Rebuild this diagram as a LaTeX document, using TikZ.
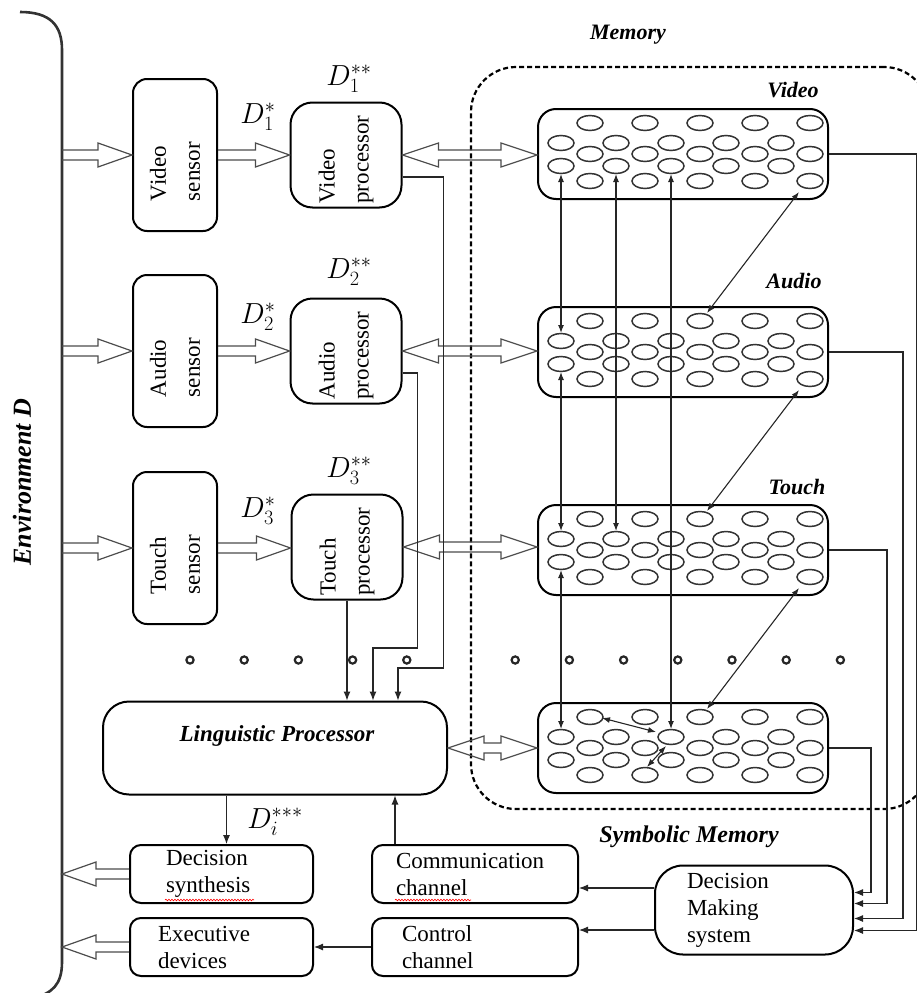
\RequirePackage{fix-cm}
\documentclass[tikz,border=0pt]{standalone}
\usepackage{fontspec}
\setmainfont{Liberation Serif}
\usetikzlibrary{arrows.meta, calc, positioning, decorations.pathmorphing}
\tikzset{
  box/.style={draw, line width=2pt, inner sep=0pt},
  vtxt/.style={font=\fontsize{23}{34}\selectfont},
  htxt/.style={font=\fontsize{23}{27}\selectfont},
  lbl/.style={font=\fontsize{22}{26}\selectfont\bfseries\itshape},
  dlbl/.style={font=\fontsize{29}{32}\selectfont},
  sensor/.style={box, rounded corners=14pt, rotate=90, align=left, vtxt,
    text width=92pt, inner xsep=30pt, minimum height=84pt},
  proc/.style={box, rounded corners=22pt, rotate=90, align=left, vtxt,
    text width=97pt, inner xsep=4pt, minimum height=111pt},
  mem/.style={box, rounded corners=18pt, minimum width=290pt, minimum height=90pt},
  memzone/.style={draw, line width=2.2pt, dash pattern=on 5pt off 3pt,
    rounded corners=45pt, minimum width=458pt, minimum height=742pt},
  sbox/.style={box, rounded corners=11pt, htxt, align=left, minimum height=58pt},
  cell/.style={draw=black!80, line width=1.5pt},
  fat/.style={draw=black!70, line width=1.2pt},
  env/.style={draw=black!80, line width=2.6pt},
  link/.style={draw=black!85, line width=1.1pt, -{Latex[length=9pt, width=7pt]}},
  mlink/.style={draw=black!85, line width=1.1pt,
    {Latex[length=8pt, width=6pt]}-{Latex[length=8pt, width=6pt]}},
  dotring/.style={draw=black!85, line width=2.2pt},
  spell/.style={draw=red, line width=0.6pt, decorate,
    decoration={snake, amplitude=0.8pt, segment length=3pt}}
}
% hollow arrow, #1 -> #2 (horizontal)
\newcommand{\fatto}[2]{%
  \draw[fat] let \p1=(#1), \p2=(#2), \p3=($(#2)!34pt!(#1)$) in
    (\x1,\y1+5pt) -- (\x3,\y1+5pt) -- (\x3,\y1+12pt) -- (\x2,\y1)
    -- (\x3,\y1-12pt) -- (\x3,\y1-5pt) -- (\x1,\y1-5pt);}
% hollow arrow, both ends
\newcommand{\fatboth}[2]{%
  \draw[fat] let \p1=(#1), \p2=(#2), \p3=($(#2)!36pt!(#1)$), \p4=($(#1)!36pt!(#2)$) in
    (\x4,\y1+5pt) -- (\x3,\y1+5pt) -- (\x3,\y1+12pt) -- (\x2,\y1)
    -- (\x3,\y1-12pt) -- (\x3,\y1-5pt) -- (\x4,\y1-5pt) -- (\x4,\y1-12pt)
    -- (\x1,\y1) -- (\x4,\y1+12pt) -- cycle;}
% memory cells
\newcommand{\cells}[1]{%
  \foreach \dy/\xo in {15/53, 35/24, 46/53, 58/24, 73/53}
    \foreach \k in {0,...,4}
      \draw[cell] ([shift={(\xo+55*\k,\dy)}]#1.north west) ellipse[x radius=13pt, y radius=7.5pt];}

\begin{document}
\begin{tikzpicture}[x=1pt, y=-1pt]
  \useasboundingbox (0,0) rectangle (917,993);

  % environment
  \coordinate (envtop) at (62,50);
  \coordinate (envbot) at (62,962);
  \draw[env] (20,12) .. controls (50,12) and (62,25) .. (envtop) -- (envbot)
    .. controls (62,985) and (52,993) .. (34,998);
  \node[font=\fontsize{26}{30}\selectfont\bfseries\itshape, rotate=90] (envlabel) at (22,482) {Environment D};

  % sensors and processors (rotated: north = left side, south = right side)
  \node[sensor] (vs) at (175,155) {Video\\sensor};
  \node[sensor] (as) at (175,351) {Audio\\sensor};
  \node[sensor] (ts) at (175,548) {Touch\\sensor};
  \node[proc] (vp) at (346,155) {Video\\processor};
  \node[proc] (ap) at (346,351) {Audio\\processor};
  \node[proc] (tp) at (347,547) {Touch\\processor};

  \node[dlbl] (d1) at (258,117) {$D_1^{*}$};
  \node[dlbl] (d2) at (258,317) {$D_2^{*}$};
  \node[dlbl] (d3) at (258,511) {$D_3^{*}$};
  \node[dlbl] (d11) at (349,79) {$D_1^{**}$};
  \node[dlbl] (d22) at (349,272) {$D_2^{**}$};
  \node[dlbl] (d33) at (349,471) {$D_3^{**}$};

  % memory
  \node[memzone] (memory) at (700,438) {};
  \node[lbl] (memlabel) at (628,35) {Memory};
  \node[mem] (vmem) at (683,154) {};
  \node[mem] (amem) at (683,352) {};
  \node[mem] (tmem) at (683,550) {};
  \node[mem] (smem) at (683,748) {};
  \node[lbl] (vlabel) at (793,90) {Video};
  \node[lbl] (alabel) at (794,281) {Audio};
  \node[lbl] (tlabel) at (797,487) {Touch};
  \node[lbl, font=\fontsize{24}{28}\selectfont\bfseries\itshape] (smlabel) at (689,837) {Symbolic Memory};
  \cells{vmem}
  \cells{amem}
  \cells{tmem}
  \cells{smem}

  \foreach \k in {0,...,4,6,7,...,12}
    \draw[dotring] (190+54.2*\k,660) circle[radius=3.6pt];

  % linguistic part
  \node[box, rounded corners=26pt, minimum width=344pt, minimum height=93pt] (lp) at (275,748) {};
  \node[lbl, font=\fontsize{23}{27}\selectfont\bfseries\itshape] (lptext) at (277,736) {Linguistic Processor};

  \node[sbox, text width=111pt, inner xsep=36pt] (ds) at (221.5,874) {Decision\\synthesis};
  \node[sbox, text width=127pt, inner xsep=28pt] (ed) at (221.5,947) {Executive\\devices};
  \node[sbox, text width=158pt, inner xsep=24pt] (cc) at (475,874) {Communication\\channel};
  \node[sbox, text width=146pt, inner xsep=30pt] (ctl) at (475,947) {Control\\channel};
  \node[box, rounded corners=28pt, htxt, align=left, text width=134pt, inner xsep=32pt,
    minimum height=89pt] (dms) at (754,910) {Decision\\Making\\system};
  \node[dlbl] (di) at (275,822) {$D_i^{***}$};

  \draw[spell] ([shift={(36,-4)}]ds.south west) -- ++(89,0);
  \draw[spell] ([shift={(24,-4)}]cc.south west) -- ++(76,0);

  % hollow arrows
  \fatto{vs.north -| envtop}{vs.north}
  \fatto{as.north -| envtop}{as.north}
  \fatto{ts.north -| envtop}{ts.north}
  \fatto{vs.south}{vp.north}
  \fatto{as.south}{ap.north}
  \fatto{ts.south}{tp.north}
  \fatboth{vp.south}{vmem.west}
  \fatboth{ap.south}{amem.west}
  \fatboth{tp.south}{tmem.west}
  \fatboth{lp.east}{smem.west}
  \fatto{ds.west}{ds.west -| envtop}
  \fatto{ed.west}{ed.west -| envtop}

  % processors to linguistic processor
  \draw[link] (tp.west) -- (tp.west |- lp.north);
  \draw[link] ([yshift=-22pt]ap.south) -| ++(15,275) -| ($(lp.north -| tp.west)+(26,0)$);
  \draw[link] ([yshift=-22pt]vp.south) -| ++(41,491) -| ($(lp.north -| tp.west)+(51,0)$);

  % links between memories
  \draw[mlink] ([shift={(24,66)}]vmem.north west) -- ([shift={(24,27)}]amem.north west);
  \draw[mlink] ([shift={(24,66)}]amem.north west) -- ([shift={(24,27)}]tmem.north west);
  \draw[mlink] ([shift={(24,66)}]tmem.north west) -- ([shift={(24,27)}]smem.north west);
  \draw[mlink] ([shift={(79,66)}]vmem.north west) -- ([shift={(79,27)}]tmem.north west);
  \draw[mlink] ([shift={(134,66)}]vmem.north west) -- ([shift={(134,27)}]smem.north west);
  \draw[mlink] ([shift={(262,84)}]vmem.north west) -- ([shift={(170,7)}]amem.north west);
  \draw[mlink] ([shift={(262,84)}]amem.north west) -- ([shift={(170,7)}]tmem.north west);
  \draw[mlink] ([shift={(262,84)}]tmem.north west) -- ([shift={(170,7)}]smem.north west);
  \draw[mlink] ([shift={(65,16)}]smem.north west) -- ([shift={(119,30)}]smem.north west);
  \draw[mlink] ([shift={(129,44)}]smem.north west) -- ([shift={(110,65)}]smem.north west);

  % memories to decision making system
  \draw[link] (smem.east) -- ++(42,0) |- ([yshift=17.5pt]dms.east);
  \draw[link] (tmem.east) -- ++(58,0) |- ([yshift=6.5pt]dms.east);
  \draw[link] (amem.east) -- ++(74,0) |- ([yshift=-8.5pt]dms.east);
  \draw[link] (vmem.east) -- ++(88,0) |- ([yshift=-20.5pt]dms.east);

  % bottom part
  \draw[link] ([xshift=5pt]ds.north |- lp.south) -- ([xshift=5pt]ds.north);
  \draw[link] ([xshift=24pt]cc.north west) -- ([xshift=24pt]cc.north west |- lp.south);
  \draw[link] ([yshift=22pt]dms.west) -- ([yshift=22pt]dms.west -| cc.east);
  \draw[link] ([yshift=-20pt]dms.west) -- ([yshift=-20pt]dms.west -| ctl.east);
  \draw[link] (ctl.west) -- (ed.east);
\end{tikzpicture}
\end{document}
